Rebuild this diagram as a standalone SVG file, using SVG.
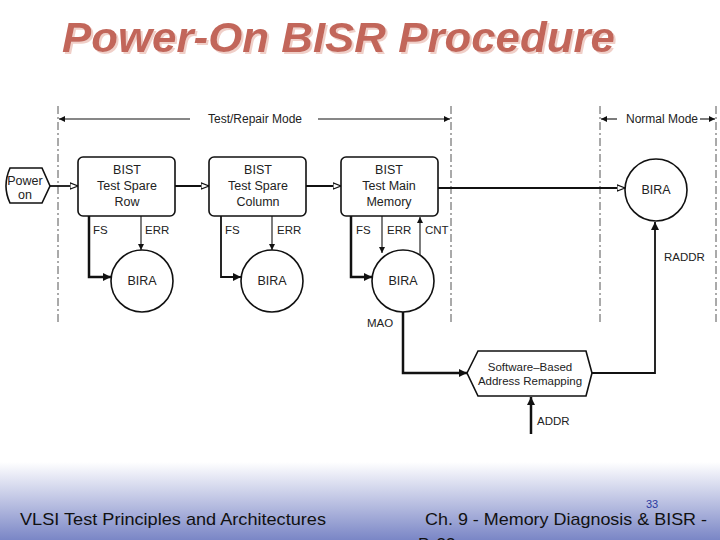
<svg xmlns="http://www.w3.org/2000/svg" width="720" height="540" viewBox="0 0 720 540">
<defs>
<linearGradient id="foot" x1="0" y1="0" x2="0" y2="1">
<stop offset="0" stop-color="#ffffff"/>
<stop offset="0.45" stop-color="#c4c9e6"/>
<stop offset="1" stop-color="#7a86c6"/>
</linearGradient>
<filter id="shadow" x="-5%" y="-20%" width="110%" height="150%">
<feOffset in="SourceAlpha" dx="2" dy="2" result="o"/>
<feFlood flood-color="#f0cfc8"/>
<feComposite in2="o" operator="in" result="s"/>
<feMerge><feMergeNode in="s"/><feMergeNode in="SourceGraphic"/></feMerge>
</filter>
<marker id="hollow" viewBox="0 0 10 10" refX="10" refY="5" markerWidth="9" markerHeight="8" markerUnits="userSpaceOnUse" orient="auto">
<path d="M0,1 L10,5 L0,9 Z" fill="#fff" stroke="#111" stroke-width="1.4"/>
</marker>
<marker id="filled" viewBox="0 0 10 10" refX="10" refY="5" markerWidth="10" markerHeight="8" markerUnits="userSpaceOnUse" orient="auto">
<path d="M0,0 L10,5 L0,10 Z" fill="#111"/>
</marker>
<marker id="small" viewBox="0 0 10 10" refX="10" refY="5" markerWidth="8" markerHeight="6" markerUnits="userSpaceOnUse" orient="auto">
<path d="M0,0 L10,5 L0,10 Z" fill="#111"/>
</marker>
</defs>
<style>
.t{font-family:"Liberation Sans",Arial,sans-serif;fill:#222}
.lbl{font-size:11.5px}
.box{fill:#fff;stroke:#111;stroke-width:1.6}
.dash{stroke:#555;stroke-width:1;stroke-dasharray:8,3,2,3;fill:none}
.thick{stroke:#111;stroke-width:2.5;fill:none}
.mid{stroke:#111;stroke-width:1.8;fill:none}
.thin{stroke:#111;stroke-width:1.1;fill:none}
.ft{font-family:"Liberation Sans",Arial,sans-serif;font-size:17px;fill:#111}
</style>
<rect x="0" y="0" width="720" height="540" fill="#fff"/>
<rect x="0" y="462" width="720" height="78" fill="url(#foot)"/>

<g id="title">
<text x="62" y="52" font-family="Liberation Sans,Arial,sans-serif" font-size="42" font-weight="bold" font-style="italic" fill="#c2665a" textLength="553" lengthAdjust="spacingAndGlyphs" filter="url(#shadow)">Power-On BISR Procedure</text>
</g>

<g id="modes">
<line class="dash" x1="58" y1="106" x2="58" y2="322"/>
<line class="dash" x1="451" y1="106" x2="451" y2="322"/>
<line class="dash" x1="600" y1="106" x2="600" y2="322"/>
<line class="dash" x1="716" y1="106" x2="716" y2="322"/>
<line class="thin" x1="190" y1="119" x2="59" y2="119" marker-end="url(#small)"/>
<line class="thin" x1="318" y1="119" x2="450" y2="119" marker-end="url(#small)"/>
<text class="t" x="255" y="123" font-size="12" text-anchor="middle">Test/Repair Mode</text>
<line class="thin" x1="617" y1="119" x2="601" y2="119" marker-end="url(#small)"/>
<line class="thin" x1="700" y1="119" x2="715" y2="119" marker-end="url(#small)"/>
<text class="t" x="662" y="123" font-size="12" text-anchor="middle">Normal Mode</text>
</g>

<g id="connectors">
<line class="mid" x1="50" y1="186" x2="78" y2="186" marker-end="url(#hollow)"/>
<line class="mid" x1="175" y1="186" x2="209" y2="186" marker-end="url(#hollow)"/>
<line class="mid" x1="306" y1="186" x2="341" y2="186" marker-end="url(#hollow)"/>
<line class="mid" x1="438" y1="188" x2="625" y2="188" marker-end="url(#hollow)"/>
<polyline class="thick" points="89,216 89,277 111,277" marker-end="url(#filled)"/>
<line class="thin" x1="141" y1="216" x2="141" y2="250" marker-end="url(#small)"/>
<polyline class="mid" points="221,216 221,277 241,277" marker-end="url(#filled)"/>
<line class="thin" x1="272" y1="216" x2="272" y2="250" marker-end="url(#small)"/>
<polyline class="thick" points="351,216 351,277 372,277" marker-end="url(#filled)"/>
<line class="thin" x1="382" y1="216" x2="382" y2="253" marker-end="url(#small)"/>
<line class="thin" x1="420" y1="258" x2="420" y2="217" marker-end="url(#small)"/>
<polyline class="thick" points="403,312 403,373 467,373" marker-end="url(#filled)"/>
<polyline class="mid" points="592,373 655,373 655,222" marker-end="url(#filled)"/>
<line class="thick" x1="531" y1="434" x2="531" y2="397" marker-end="url(#filled)"/>
<text class="t lbl" x="93" y="234">FS</text>
<text class="t lbl" x="145" y="234">ERR</text>
<text class="t lbl" x="225" y="234">FS</text>
<text class="t lbl" x="277" y="234">ERR</text>
<text class="t lbl" x="356" y="234">FS</text>
<text class="t lbl" x="387" y="234">ERR</text>
<text class="t lbl" x="425" y="234">CNT</text>
<text class="t lbl" x="367" y="327">MAO</text>
<text class="t lbl" x="664" y="261">RADDR</text>
<text class="t lbl" x="537" y="425">ADDR</text>
</g>

<g id="power-on">
<path class="box" d="M10,168 L42,168 L50,186 L42,203 L10,203 Q2,186 10,168 Z"/>
<text class="t" x="25" y="185" font-size="12.5" text-anchor="middle">Power</text>
<text class="t" x="25" y="199" font-size="12.5" text-anchor="middle">on</text>
</g>

<g id="bist-row">
<rect class="box" x="78" y="157" width="97" height="59" rx="5"/>
<text class="t" x="127" y="174" font-size="12.5" text-anchor="middle">BIST</text>
<text class="t" x="127" y="190" font-size="12.5" text-anchor="middle">Test Spare</text>
<text class="t" x="127" y="206" font-size="12.5" text-anchor="middle">Row</text>
</g>
<g id="bist-column">
<rect class="box" x="209" y="157" width="97" height="59" rx="5"/>
<text class="t" x="258" y="174" font-size="12.5" text-anchor="middle">BIST</text>
<text class="t" x="258" y="190" font-size="12.5" text-anchor="middle">Test Spare</text>
<text class="t" x="258" y="206" font-size="12.5" text-anchor="middle">Column</text>
</g>
<g id="bist-main">
<rect class="box" x="341" y="157" width="97" height="59" rx="5"/>
<text class="t" x="389" y="174" font-size="12.5" text-anchor="middle">BIST</text>
<text class="t" x="389" y="190" font-size="12.5" text-anchor="middle">Test Main</text>
<text class="t" x="389" y="206" font-size="12.5" text-anchor="middle">Memory</text>
</g>

<g id="bira-1">
<circle class="box" cx="142" cy="281" r="31"/>
<text class="t" x="142" y="285" font-size="12.5" text-anchor="middle">BIRA</text>
</g>
<g id="bira-2">
<circle class="box" cx="272" cy="281" r="31"/>
<text class="t" x="272" y="285" font-size="12.5" text-anchor="middle">BIRA</text>
</g>
<g id="bira-3">
<circle class="box" cx="403" cy="281" r="31"/>
<text class="t" x="403" y="285" font-size="12.5" text-anchor="middle">BIRA</text>
</g>
<g id="bira-normal">
<circle class="box" cx="656" cy="190" r="31"/>
<text class="t" x="656" y="194" font-size="12.5" text-anchor="middle">BIRA</text>
</g>

<g id="remap">
<path class="box" d="M467,373 L478,351 L586,351 L592,373 L586,396 L478,396 Z"/>
<text class="t" x="530" y="371" font-size="11.5" text-anchor="middle">Software–Based</text>
<text class="t" x="530" y="385" font-size="11.5" text-anchor="middle">Address Remapping</text>
</g>

<g id="footer">
<text class="ft" x="20" y="525" textLength="306" lengthAdjust="spacingAndGlyphs">VLSI Test Principles and Architectures</text>
<text class="ft" x="425" y="525" textLength="282" lengthAdjust="spacingAndGlyphs">Ch. 9 - Memory Diagnosis &amp; BISR -</text>
<text class="ft" x="418" y="550">P. 33</text>
<text x="652" y="508" font-family="Liberation Sans,Arial,sans-serif" font-size="11" fill="#2a3aa0" text-anchor="middle">33</text>
</g>
</svg>
